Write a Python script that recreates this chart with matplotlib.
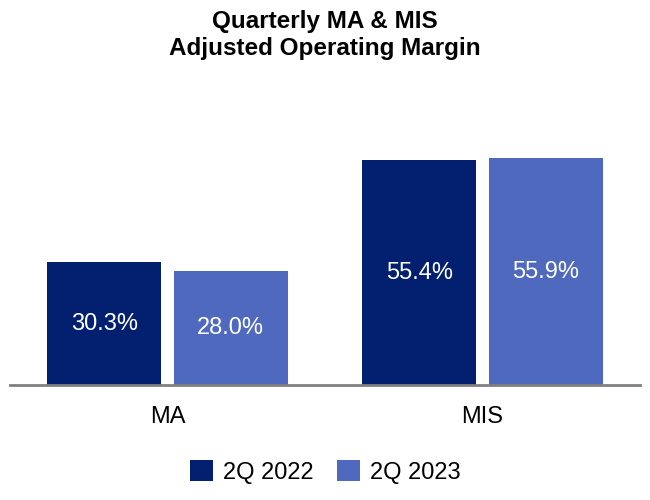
import numpy as np
import matplotlib.pyplot as plt

plt.rcParams['font.family'] = ['Liberation Sans', 'DejaVu Sans']

# ====================== DATA ======================
categories = ['MA', 'MIS']
series_names = ['2Q 2022', '2Q 2023']
margin_2022 = [30.3, 55.4]
margin_2023 = [28.0, 55.9]

colors = ['#02206F', '#4E69BE']

# ====================== PLOT ======================
fig = plt.figure(figsize=(6.5, 5), dpi=100)
ax = fig.add_axes([0.0154, 0.23, 0.9692, 0.568])

x = np.arange(len(categories))
w = 0.36
off = 0.201

bars1 = ax.bar(x - off, margin_2022, width=w, color=colors[0], label=series_names[0])
bars2 = ax.bar(x + off, margin_2023, width=w, color=colors[1], label=series_names[1])

for bars in (bars1, bars2):
    for b in bars:
        h = b.get_height()
        ax.text(b.get_x() + b.get_width() / 2, h / 2, f'{h:.1f}%',
                ha='center', va='center', color='white', fontsize=17)

ax.set_xlim(-0.5, 1.5)
ax.set_ylim(0, 70)
ax.set_xticks(x)
ax.set_xticklabels(categories, fontsize=17)
ax.tick_params(axis='x', length=0, pad=15)
ax.set_yticks([])

for s in ['top', 'right', 'left']:
    ax.spines[s].set_visible(False)
ax.spines['bottom'].set_color('#808080')
ax.spines['bottom'].set_linewidth(2)

fig.text(0.5, 0.98, 'Quarterly MA & MIS\nAdjusted Operating Margin',
         ha='center', va='top', fontsize=17.5, fontweight='bold', linespacing=1.2)

fig.legend(handles=[bars1, bars2], labels=series_names, loc='center',
           bbox_to_anchor=(0.5, 0.056), ncol=2, frameon=False, fontsize=17,
           handlelength=1.0, handleheight=1.0, handletextpad=0.4, columnspacing=1.0)

plt.savefig('out.png', dpi=100)
